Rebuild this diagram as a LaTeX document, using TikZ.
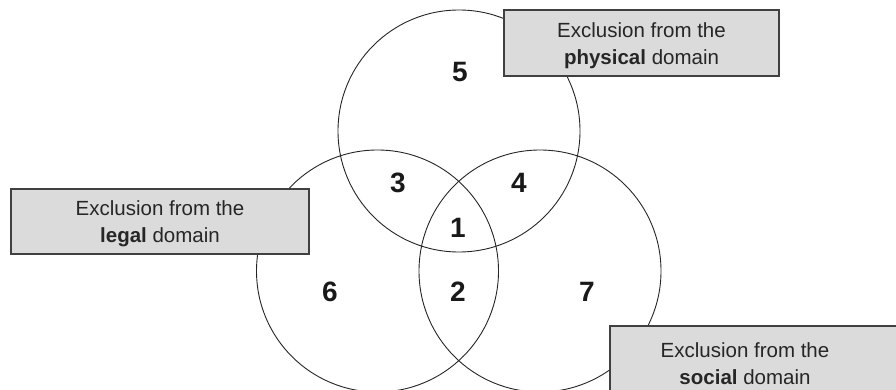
\documentclass[tikz,border=0pt]{standalone}
\usepackage{fontspec}
\setmainfont{Liberation Sans}
\begin{document}
\begin{tikzpicture}[x=1pt,y=-1pt,
  ring/.style={circle,draw=black!85,line width=0.9pt,inner sep=0pt,minimum size=242pt},
  label box/.style={draw=black!75,line width=1.1pt,fill=black!14,inner sep=0pt},
  boxtext/.style={align=center,text=black!85,font=\fontsize{20.5}{27}\selectfont},
  num/.style={font=\fontsize{28}{28}\selectfont\bfseries,text=black!90}]
\useasboundingbox (0,0) rectangle (896,390);
\clip (0,0) rectangle (896,390);
\node[ring] (P) at (459,131) {};
\node[ring] (L) at (377.5,271) {};
\node[ring] (S) at (540,271) {};
\node[num] (n5) at (460,72) {5};
\node[num] (n3) at (398,183) {3};
\node[num] (n4) at (519,183) {4};
\node[num] (n1) at (458,228) {1};
\node[num] (n6) at (330,292) {6};
\node[num] (n2) at (458,292) {2};
\node[num] (n7) at (587,292) {7};
\draw[label box] (504,10) rectangle (779,76);
\node[boxtext] (tp) at (641.5,45.5) {Exclusion from the\\\textbf{physical} domain};
\draw[label box] (11,189) rectangle (309,254);
\node[boxtext] (tl) at (160,223.5) {Exclusion from the\\\textbf{legal} domain};
\draw[label box] (610,326) rectangle (910,400);
\node[boxtext] (ts) at (745,364) {Exclusion from the\\\textbf{social} domain};
\end{tikzpicture}
\end{document}
